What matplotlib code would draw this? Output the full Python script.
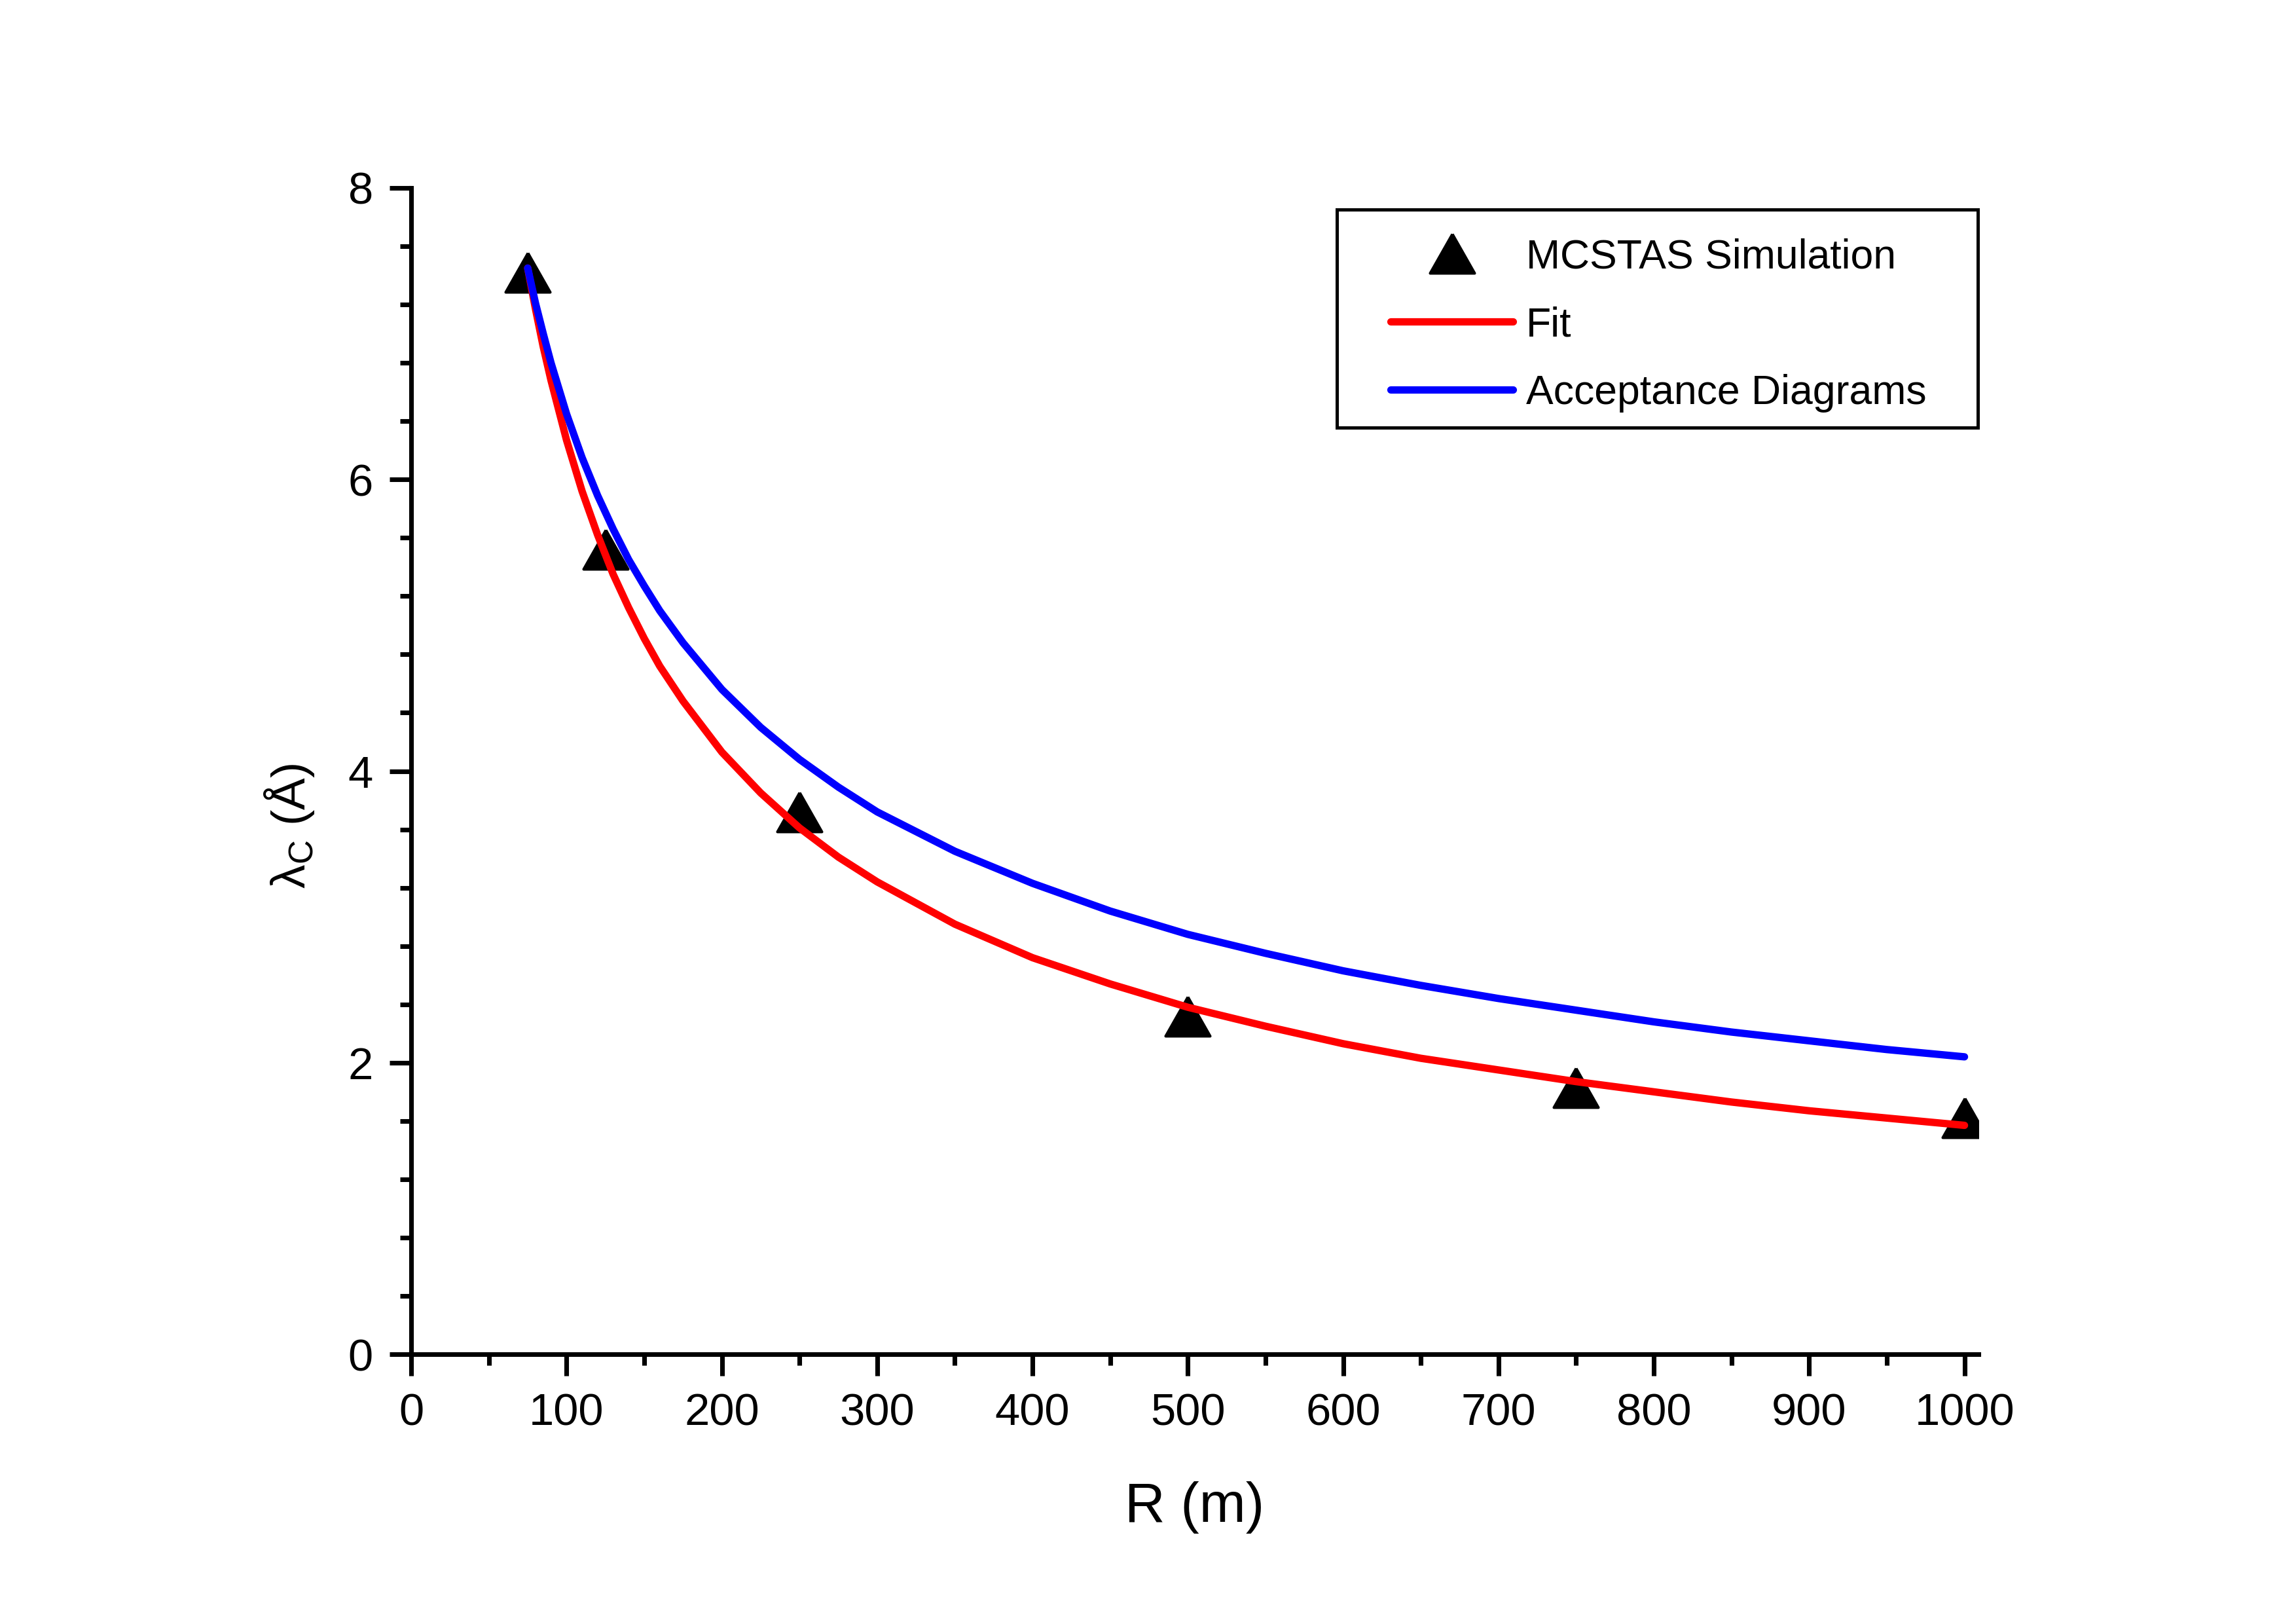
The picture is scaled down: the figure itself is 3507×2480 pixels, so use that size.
import numpy as np
import matplotlib
matplotlib.use("Agg")
from matplotlib import pyplot as plt
from matplotlib.lines import Line2D
import matplotlib.patches as patches

plt.rcParams['font.family'] = ['Liberation Sans', 'DejaVu Sans']
plt.rcParams['mathtext.fontset'] = 'custom'
plt.rcParams['mathtext.rm'] = 'Liberation Sans'

# MCSTAS simulation points
sim_r = [75, 125, 250, 500, 750, 1000]
sim_lam = [7.42, 5.52, 3.72, 2.32, 1.83, 1.62]

# curves
curve_r = [75, 80, 85, 90, 100, 110, 120, 130, 140, 150, 160, 175, 200, 225,
           250, 275, 300, 350, 400, 450, 500, 550, 600, 650, 700, 750, 800,
           850, 900, 950, 1000]
fit_lam = [7.45, 7.17, 6.91, 6.68, 6.27, 5.92, 5.62, 5.35, 5.12, 4.91, 4.72,
           4.48, 4.13, 3.85, 3.61, 3.41, 3.24, 2.95, 2.72, 2.54, 2.38, 2.25,
           2.13, 2.03, 1.95, 1.87, 1.80, 1.73, 1.67, 1.62, 1.57]
acc_lam = [7.45, 7.21, 7.00, 6.80, 6.45, 6.15, 5.89, 5.66, 5.45, 5.27, 5.10,
           4.88, 4.56, 4.30, 4.08, 3.89, 3.72, 3.45, 3.23, 3.04, 2.88, 2.75,
           2.63, 2.53, 2.44, 2.36, 2.28, 2.21, 2.15, 2.09, 2.04]

labels = ['MCSTAS Simulation', 'Fit', 'Acceptance Diagrams']

# slightly flat triangle like the Origin symbol
tri = [(0, 0.88), (-1, -0.88), (1, -0.88), (0, 0.88)]
lw = 2.7

fig = plt.figure(figsize=(3507 / 300, 2480 / 300), dpi=300)
ax = fig.add_axes([0.1791, 0.1661, 0.6826, 0.7182])

line_kw = dict(lw=lw, solid_capstyle='round', solid_joinstyle='round', zorder=3)
ax.plot(curve_r, fit_lam, color='red', **line_kw)
ax.plot(curve_r, acc_lam, color='blue', **line_kw)
ax.plot(sim_r, sim_lam, ls='none', marker=tri, color='black', ms=16.3, zorder=2)

ax.set_xlim(0, 1009)
ax.set_ylim(0, 8)
ax.spines['top'].set_visible(False)
ax.spines['right'].set_visible(False)
for s in ['left', 'bottom']:
    ax.spines[s].set_linewidth(1.7)

ax.set_xticks(np.arange(0, 1001, 100))
ax.set_xticks(np.arange(0, 1001, 50), minor=True)
ax.set_yticks([0, 2, 4, 6, 8])
ax.set_yticks(np.arange(0, 8.01, 0.4), minor=True)
ax.tick_params(which='major', direction='out', length=8, width=1.7, labelsize=16.5, pad=6)
ax.tick_params(which='minor', direction='out', length=4, width=1.7)

ax.set_xlabel('R (m)', fontsize=20.5)
ax.xaxis.set_label_coords(0.5, -0.1086)
ax.set_ylabel(r'λ$_\mathrm{C}$ (Å)', fontsize=17.5)
ax.yaxis.set_label_coords(-0.0606, 0.4526)

# legend
handles = [
    Line2D([], [], ls='none', marker=tri, color='black', ms=16.3),
    Line2D([], [], color='red', lw=lw, solid_capstyle='round'),
    Line2D([], [], color='blue', lw=lw, solid_capstyle='round'),
]
fig.legend(handles, labels, loc='upper left', bbox_to_anchor=(0.6056, 0.8535),
           bbox_transform=fig.transFigure, fontsize=15, frameon=False,
           borderaxespad=0, borderpad=0, handlelength=3.0,
           handletextpad=0.32, labelspacing=0.72)
box = patches.Rectangle((0.5823, 0.7365), 0.279, 0.1345, transform=fig.transFigure,
                        fill=False, edgecolor='black', linewidth=1.2)
fig.patches.append(box)

fig.savefig('out.png', dpi=300)
